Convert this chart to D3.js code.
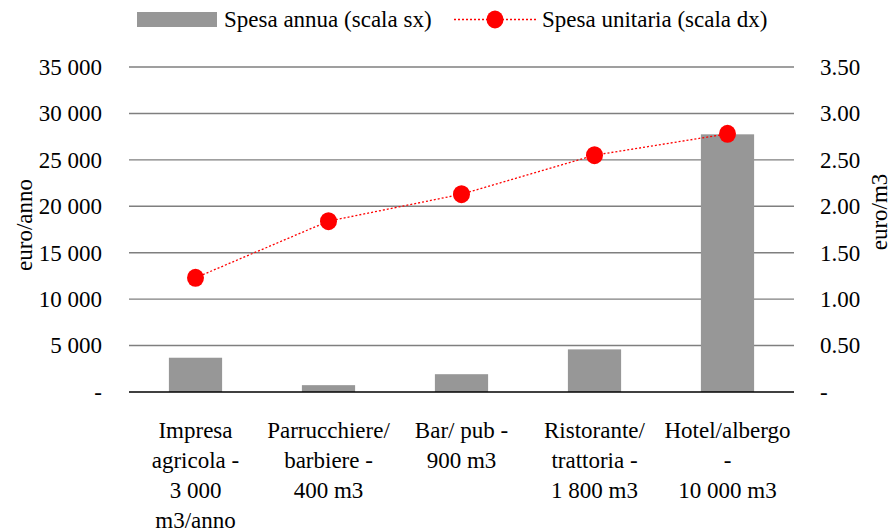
<!DOCTYPE html>
<html>
<head>
<meta charset="utf-8">
<script src="https://cdn.jsdelivr.net/npm/d3@7"></script>
<style>
	body { margin: 0; background: #fff; }
	svg, svg text { font-family: "Times New Roman", "Liberation Serif", Tinos, "DejaVu Serif", serif !important; }
</style>
</head>
<body>
<svg id="chart" width="893" height="532"></svg>
<script>
const categories = [
	['Impresa', 'agricola -', '3 000', 'm3/anno'],
	['Parrucchiere/', 'barbiere -', '400 m3'],
	['Bar/ pub -', '900 m3'],
	['Ristorante/', 'trattoria -', '1 800 m3'],
	['Hotel/albergo', '-', '10 000 m3'],
]
const annualCost = [3690, 736, 1917, 4590, 27750]
const unitCost = [1.23, 1.84, 2.13, 2.55, 2.78]
const leftTicks = [0, 5000, 10000, 15000, 20000, 25000, 30000, 35000]
const rightTicks = [0, 0.5, 1, 1.5, 2, 2.5, 3, 3.5]
const seriesNames = ['Spesa annua (scala sx)', 'Spesa unitaria (scala dx)']

const svg = d3.select('#chart')
const m = { left: 129, right: 794, top: 67, bottom: 392 }
const fs = 23
const serif = '"Times New Roman", "Liberation Serif", serif'

const x = d3
	.scaleBand()
	.domain(d3.range(categories.length))
	.range([m.left, m.right])
const barW = x.bandwidth() / 2.5
const yL = d3.scaleLinear().domain([0, 35000]).range([m.bottom, m.top])
const yR = d3.scaleLinear().domain([0, 3.5]).range([m.bottom, m.top])

const fmtL = v => (v == 0 ? '-' : d3.format(',')(v).replace(',', ' '))
const fmtR = v => (v == 0 ? '-' : d3.format('.2f')(v))

// gridlines
svg.append('g')
	.selectAll('line')
	.data(leftTicks.filter(v => v > 0))
	.enter()
	.append('line')
	.attr('x1', m.left)
	.attr('x2', m.right)
	.attr('y1', d => yL(d))
	.attr('y2', d => yL(d))
	.attr('stroke', '#7f7f7f')
	.attr('stroke-width', 1.4)

// bars
svg.append('g')
	.selectAll('rect')
	.data(annualCost)
	.enter()
	.append('rect')
	.attr('x', (d, i) => x(i) + (x.bandwidth() - barW) / 2)
	.attr('y', d => yL(d))
	.attr('width', barW)
	.attr('height', d => yL(0) - yL(d))
	.attr('fill', '#979797')

// baseline
svg.append('line')
	.attr('x1', m.left)
	.attr('x2', m.right)
	.attr('y1', yL(0))
	.attr('y2', yL(0))
	.attr('stroke', '#000')
	.attr('stroke-width', 1.4)

// axes
const axL = svg
	.append('g')
	.attr('transform', `translate(${m.left - 27},0)`)
	.call(d3.axisLeft(yL).tickValues(leftTicks).tickFormat(fmtL).tickSize(0).tickPadding(0))
const axR = svg
	.append('g')
	.attr('transform', `translate(${m.right + 26},0)`)
	.call(d3.axisRight(yR).tickValues(rightTicks).tickFormat(fmtR).tickSize(0).tickPadding(0))
;[axL, axR].forEach(ax => {
	ax.attr('font-family', serif).attr('font-size', fs)
	ax.select('.domain').remove()
	ax.selectAll('text').attr('fill', '#000')
})

// axis titles
svg.append('text')
	.attr('transform', 'translate(24,225) rotate(-90)')
	.attr('text-anchor', 'middle')
	.attr('dominant-baseline', 'central')
	.attr('font-size', fs)
	.text('euro/anno')
svg.append('text')
	.attr('transform', 'translate(879,212) rotate(-90)')
	.attr('text-anchor', 'middle')
	.attr('dominant-baseline', 'central')
	.attr('font-size', fs)
	.text('euro/m3')

// line series
const line = d3
	.line()
	.x((d, i) => x(i) + x.bandwidth() / 2)
	.y(d => yR(d))
svg.append('path')
	.attr('d', line(unitCost))
	.attr('fill', 'none')
	.attr('stroke', '#ff0000')
	.attr('stroke-width', 1.3)
	.attr('stroke-dasharray', '2,2')
svg.append('g')
	.selectAll('ellipse')
	.data(unitCost)
	.enter()
	.append('ellipse')
	.attr('cx', (d, i) => x(i) + x.bandwidth() / 2)
	.attr('cy', d => yR(d))
	.attr('rx', 8.5)
	.attr('ry', 9)
	.attr('fill', '#ff0000')

// category labels
const cat = svg
	.append('g')
	.selectAll('text')
	.data(categories)
	.enter()
	.append('text')
	.attr('text-anchor', 'middle')
	.attr('font-size', fs)
cat.selectAll('tspan')
	.data((d, i) => d.map(s => ({ s, i })))
	.enter()
	.append('tspan')
	.attr('x', d => x(d.i) + x.bandwidth() / 2)
	.attr('y', (d, j) => 438 + j * 30)
	.text(d => d.s)

// legend
const lg = svg.append('g')
lg.append('rect').attr('x', 137).attr('y', 12).attr('width', 80).attr('height', 15).attr('fill', '#979797')
lg.append('text').attr('x', 224).attr('y', 27).attr('font-size', fs).text(seriesNames[0])
lg.append('line')
	.attr('x1', 454)
	.attr('x2', 537)
	.attr('y1', 19.5)
	.attr('y2', 19.5)
	.attr('stroke', '#ff0000')
	.attr('stroke-width', 1.3)
	.attr('stroke-dasharray', '2,2')
lg.append('ellipse').attr('cx', 495).attr('cy', 19.5).attr('rx', 8.5).attr('ry', 9).attr('fill', '#ff0000')
lg.append('text').attr('x', 542).attr('y', 27).attr('font-size', fs).text(seriesNames[1])
</script>
</body>
</html>
